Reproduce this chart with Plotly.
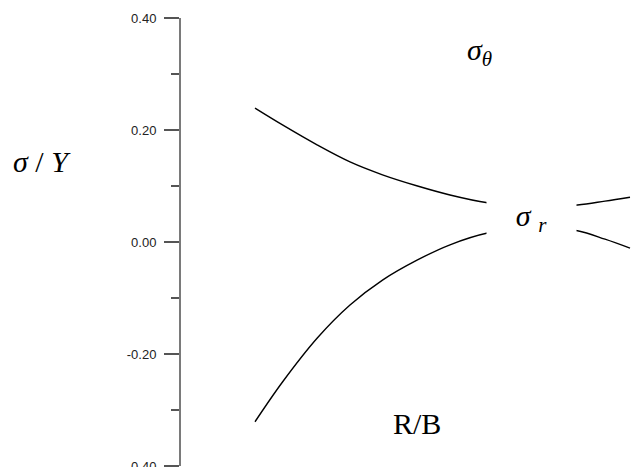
import plotly.graph_objects as go

# R/B positions
r_b = [1.00, 1.11, 1.25, 1.38, 1.51, 1.65, 1.78, 1.93, 2.10, 2.29, 2.40, 2.50]
# sigma_theta / Y
sigma_theta = [0.239, 0.209, 0.173, 0.143, 0.120, 0.100, 0.084, 0.070, 0.0625, 0.066, 0.073, 0.080]
# sigma_r / Y
sigma_r = [-0.321, -0.250, -0.171, -0.1125, -0.068, -0.032, -0.005, 0.016, 0.025, 0.020, 0.005, -0.011]

y_tickvals = [0.40, 0.20, 0.00, -0.20, -0.40]
y_ticktext = ["0.40", "0.20", "0.00", "-0.20", "-0.40"]

fig = go.Figure()
for ys in (sigma_theta, sigma_r):
    fig.add_trace(go.Scatter(x=r_b, y=ys, mode="lines",
                             line=dict(color="black", width=1.4, shape="spline"),
                             showlegend=False, hoverinfo="skip"))

serif = "Liberation Serif, Times New Roman, serif"
ann = dict(xref="paper", yref="paper", showarrow=False, xanchor="center", yanchor="middle",
           font=dict(family=serif, size=30, color="black"))
fig.update_layout(
    width=636, height=467,
    margin=dict(l=181, r=0, t=18, b=1, autoexpand=False),
    paper_bgcolor="white", plot_bgcolor="white",
    xaxis=dict(range=[0.704, 2.524], visible=False, automargin=False),
    yaxis=dict(range=[-0.4, 0.4], tickvals=y_tickvals, ticktext=y_ticktext,
               automargin=False,
               showgrid=False, zeroline=False, showline=True,
               linecolor="#7a7a7a", linewidth=2,
               ticks="outside", ticklen=15, tickwidth=1.5, tickcolor="#555",
               ticklabelstandoff=5, ticklabeloverflow="allow",
               tickfont=dict(family="Liberation Sans, Arial, sans-serif", size=13, color="#222"),
               minor=dict(dtick=0.1, tick0=0, ticks="outside", ticklen=8,
                          tickwidth=1.5, tickcolor="#555", showgrid=False)),
    annotations=[
        dict(ann, text="<i>σ</i> / <i>Y</i>", x=-0.3055, y=0.679),
        dict(ann, text="R/B", x=0.5187, y=0.0938),
        dict(ann, text="<i>σ</i><sub><i>θ</i></sub>", x=0.655, y=0.925),
        dict(ann, text="<i>σ</i> <sub><i>r</i></sub>", x=0.771, y=0.5536,
             bgcolor="white", width=89, height=40, borderpad=0),
    ],
)

fig.write_html("out.html", config={"displayModeBar": False},
               post_script="document.body.style.margin='0';document.body.style.overflow='hidden';")
